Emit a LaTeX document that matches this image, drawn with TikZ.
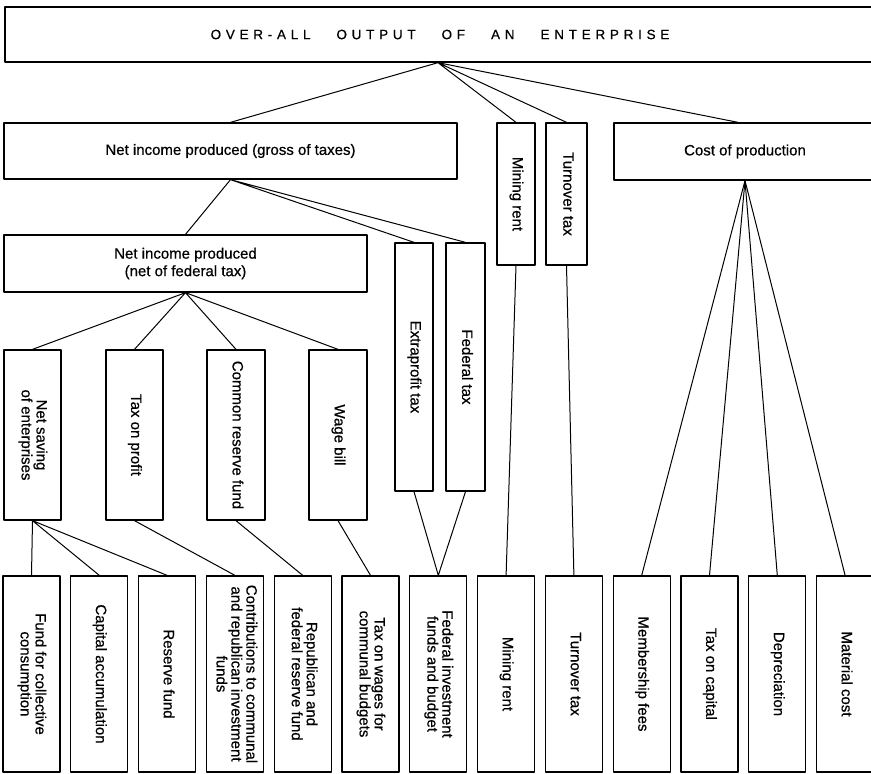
\documentclass[tikz,border=0pt]{standalone}
\usepackage{graphicx}
\usepackage{fontspec}
\setmainfont[FakeBold=0.6]{Liberation Sans}
\newfontfamily\spacedfont[LetterSpace=35, FakeBold=0.6]{Liberation Sans}
\newcommand\vtext[1]{\rotatebox{-90}{\begin{tabular}{@{}c@{}}#1\end{tabular}}}

\begin{document}
\begin{tikzpicture}[x=1pt, y=-1pt, line join=round, line cap=round,
		font=\fontsize{15}{13.5}\selectfont,
		box/.style={draw, line width=1.3pt, inner sep=0pt, align=center},
		boxsize/.style 2 args={minimum width=#1pt, minimum height=#2pt},
		link/.style={line width=1pt}]
	\useasboundingbox (0,0) rectangle (871,774);
	% top
	\node[box, boxsize={880}{55}] (output) at (445,34.5) {\spacedfont\fontsize{13.5}{15}\selectfont OVER-ALL\hspace{26pt}OUTPUT\hspace{26pt}OF\hspace{26pt}AN\hspace{26pt}ENTERPRISE\hspace*{10pt}};
	% second row
	\node[box, boxsize={453}{56}] (gross) at (230.5,151) {Net income produced (gross of taxes)};
	\node[box, boxsize={38}{142}] (mining) at (516,194) {\vtext{Mining rent}};
	\node[box, boxsize={41}{142}] (turnover) at (566.5,194) {\vtext{Turnover tax}};
	\node[box, boxsize={270}{57}] (cost) at (749,151.5) {\hspace*{-8pt}Cost of production};
	% third row
	\node[box, boxsize={363}{57}, font=\fontsize{15}{17.5}\selectfont] (net) at (185.5,263.5) {Net income produced\\(net of federal tax)};
	\node[box, boxsize={38}{248}] (extra) at (414,367) {\vtext{Extraprofit tax}};
	\node[box, boxsize={39}{248}] (federal) at (465.5,367) {\vtext{Federal tax}};
	\node[box, boxsize={57}{170}] (saving) at (32.5,435) {\vtext{Net saving\\of enterprises}};
	\node[box, boxsize={57}{170}] (profit) at (134.5,435) {\vtext{Tax on profit}};
	\node[box, boxsize={58}{170}] (common) at (236,435) {\vtext{Common reserve fund}};
	\node[box, boxsize={58}{170}] (wage) at (338,435) {\vtext{Wage bill}};
	% bottom row
	\foreach \lbl [count=\i] in {{Fund for collective\\consumption}, {Capital accumulation}, {Reserve fund},
			{Contributions to communal\\and republican investment\\funds}, {Republican and\\federal reserve fund},
			{Tax on wages for\\communal budgets}, {Federal investment\\funds and budget}, {Mining rent},
			{Turnover tax}, {Membership fees}, {Tax on capital}, {Depreciation}, {Material cost}}
		\node[box, boxsize={57}{196}] (b\i) at ({31.5+67.8*(\i-1)},674) {\vtext{\lbl}};
	% connectors
	\coordinate (top) at ([xshift=-7pt]output.south);
	\coordinate (costtop) at ([xshift=-11pt]cost.north);
	\coordinate (costfoot) at ([xshift=-4pt]cost.south);
	\draw[link] (top) -- (gross.north) (top) -- (mining.north)
		(top) -- (turnover.north) (top) -- (costtop);
	\draw[link] (gross.south) -- (net.north) (gross.south) -- (extra.north) (gross.south) -- (federal.north);
	\draw[link] (net.south) -- (saving.north) (net.south) -- (profit.north)
		(net.south) -- (common.north) (net.south) -- (wage.north);
	\draw[link] (saving.south) -- (b1.north) (saving.south) -- (b2.north) (saving.south) -- (b3.north);
	\draw[link] (profit.south) -- (b4.north) (common.south) -- (b5.north) (wage.south) -- (b6.north);
	\draw[link] (extra.south) -- (b7.north) -- (federal.south);
	\draw[link] (mining.south) -- (b8.north) (turnover.south) -- (b9.north);
	\foreach \j in {10,...,13}
		\draw[link] (costfoot) -- (b\j.north);
\end{tikzpicture}
\end{document}
